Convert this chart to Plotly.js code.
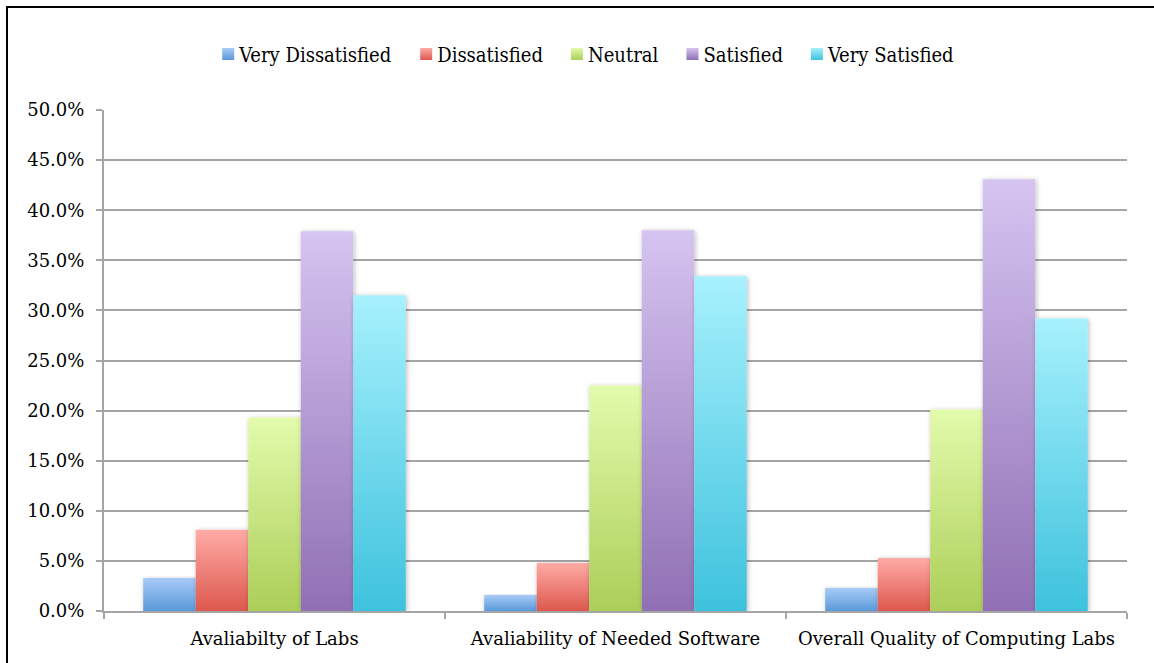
<!DOCTYPE html>
<html>
<head>
<meta charset="utf-8">
<script src="https://cdn.plot.ly/plotly-3.0.1.min.js"></script>
<style>
  html, body { margin: 0; padding: 0; background: #fff; }
  #wrap { position: relative; width: 1154px; height: 663px; overflow: hidden; }
  #chart { position: absolute; left: 0; top: 0; width: 1154px; height: 663px; }
  #frame { position: absolute; left: 6px; top: 6px; width: 1160px; height: 700px;
           border-top: 2px solid #000; border-left: 2px solid #000; pointer-events: none; }
</style>
</head>
<body>
<div id="wrap">
  <div id="chart"></div>
  <div id="frame"></div>
</div>
<script>
const categories = ["Avaliabilty of Labs", "Avaliability of Needed Software", "Overall Quality of Computing Labs"];
const seriesNames = ["Very Dissatisfied", "Dissatisfied", "Neutral", "Satisfied", "Very Satisfied"];
const veryDissatisfied = [0.033, 0.016, 0.023];
const dissatisfied     = [0.081, 0.048, 0.053];
const neutral          = [0.193, 0.225, 0.201];
const satisfied        = [0.379, 0.380, 0.431];
const verySatisfied    = [0.315, 0.334, 0.292];
const yTickVals = [0, 0.05, 0.10, 0.15, 0.20, 0.25, 0.30, 0.35, 0.40, 0.45, 0.50];

const seriesValues = [veryDissatisfied, dissatisfied, neutral, satisfied, verySatisfied];
const gradTop = ["#a8cbf7", "#ffaba6", "#e3fbac", "#d6c4f1", "#a7f1fd"];
const gradBot = ["#5a99d9", "#dd584d", "#acce58", "#9070b4", "#3ec2dd"];
const midColor = ["#7fb1e8", "#ee8178", "#c7e483", "#b39ad3", "#72d8ee"];

const FONT = "'DejaVu Serif', 'Liberation Serif', serif";

const traces = seriesNames.map((name, i) => ({
  type: "bar",
  name: name,
  x: categories,
  y: seriesValues[i],
  marker: { color: midColor[i], line: { width: 0 } },
  hoverinfo: "x+y+name"
}));

const layout = {
  width: 1154, height: 663,
  margin: { l: 104, r: 27, t: 110, b: 52 },
  paper_bgcolor: "#ffffff",
  plot_bgcolor: "#ffffff",
  barmode: "group",
  bargap: 0.23,
  bargroupgap: 0,
  font: { family: FONT, size: 18, color: "#000" },
  showlegend: true,
  legend: {
    orientation: "h",
    x: 0.465, xanchor: "center",
    y: 1.112, yanchor: "middle",
    font: { family: "'DejaVu Serif Condensed', 'DejaVu Serif', serif", size: 20, color: "#000" },
    itemclick: false, itemdoubleclick: false,
    tracegroupgap: 0
  },
  xaxis: {
    type: "category",
    showline: true, linecolor: "#a5a5a5", linewidth: 2,
    ticks: "outside", ticklen: 6, tickcolor: "#a5a5a5", tickwidth: 2,
    tickson: "boundaries",
    showgrid: false,
    tickfont: { family: FONT, size: 18, color: "#000" },
    ticklabelstandoff: 10,
    fixedrange: true
  },
  yaxis: {
    range: [0, 0.5],
    tickvals: yTickVals,
    tickformat: ".1%",
    showline: true, linecolor: "#a5a5a5", linewidth: 2,
    ticks: "outside", ticklen: 6, tickcolor: "#a5a5a5", tickwidth: 2,
    showgrid: true, gridcolor: "#a5a5a5", gridwidth: 2,
    zeroline: false,
    tickfont: { family: FONT, size: 18, color: "#000" },
    ticklabelstandoff: 8,
    fixedrange: true
  }
};

Plotly.newPlot("chart", traces, layout, { displayModeBar: false, staticPlot: true }).then(gd => {
  const svgNS = "http://www.w3.org/2000/svg";
  const svg = gd.querySelector("svg.main-svg");
  const defs = document.createElementNS(svgNS, "defs");
  for (let i = 0; i < seriesNames.length; i++) {
    const g = document.createElementNS(svgNS, "linearGradient");
    g.setAttribute("id", "barGrad" + i);
    g.setAttribute("x1", "0"); g.setAttribute("y1", "0");
    g.setAttribute("x2", "0"); g.setAttribute("y2", "1");
    const s1 = document.createElementNS(svgNS, "stop");
    s1.setAttribute("offset", "0"); s1.setAttribute("stop-color", gradTop[i]);
    const s2 = document.createElementNS(svgNS, "stop");
    s2.setAttribute("offset", "1"); s2.setAttribute("stop-color", gradBot[i]);
    g.appendChild(s1); g.appendChild(s2);
    defs.appendChild(g);
  }
  const f = document.createElementNS(svgNS, "filter");
  f.setAttribute("id", "barShadow");
  f.setAttribute("x", "-20%"); f.setAttribute("y", "-5%");
  f.setAttribute("width", "140%"); f.setAttribute("height", "115%");
  const ds = document.createElementNS(svgNS, "feDropShadow");
  ds.setAttribute("dx", "1"); ds.setAttribute("dy", "1");
  ds.setAttribute("stdDeviation", "2.5");
  ds.setAttribute("flood-color", "#000"); ds.setAttribute("flood-opacity", "0.28");
  f.appendChild(ds);
  defs.appendChild(f);
  svg.insertBefore(defs, svg.firstChild);

  gd.querySelectorAll(".barlayer .trace").forEach((tr, i) => {
    tr.querySelectorAll(".point path").forEach(p => {
      p.style.fill = "url(#barGrad" + i + ")";
      p.style.filter = "url(#barShadow)";
    });
  });
  gd.querySelectorAll(".legend .traces").forEach((tr, i) => {
    tr.querySelectorAll(".legendpoints path").forEach(p => {
      p.style.fill = "url(#barGrad" + i + ")";
    });
    const lp = tr.querySelector(".legendpoints");
    if (lp) lp.setAttribute("transform", "translate(9,0)");
  });
});
</script>
</body>
</html>
